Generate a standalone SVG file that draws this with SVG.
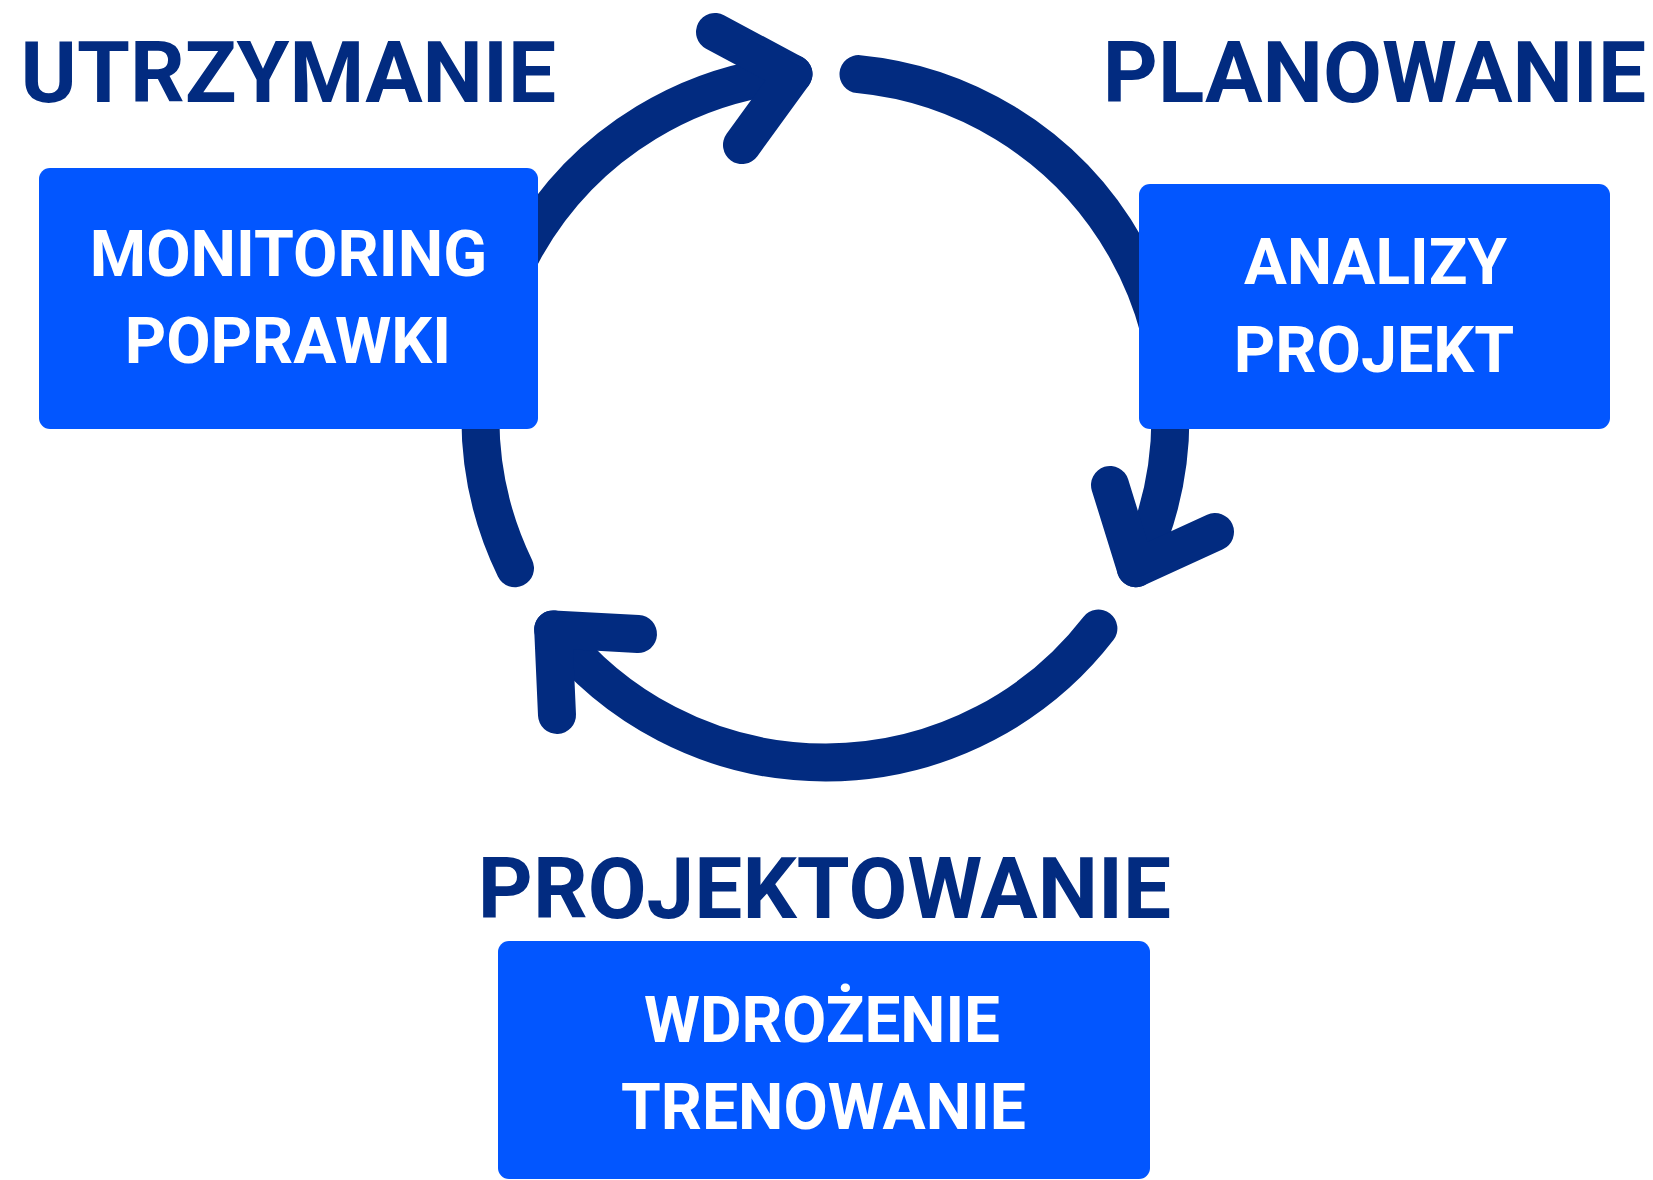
<svg xmlns="http://www.w3.org/2000/svg" width="1653" height="1180" viewBox="0 0 1653 1180">
<style>
.arc{fill:none;stroke:#022B80;stroke-width:38;stroke-linecap:round;stroke-linejoin:round}
.box{fill:#0256FF}
.title{font-family:Roboto,"Liberation Sans",sans-serif;font-weight:700;font-size:86px;fill:#022B80;text-anchor:middle}
.lbl{font-family:Roboto,"Liberation Sans",sans-serif;font-weight:700;font-size:64px;fill:#FFFFFF;text-anchor:middle}
</style>
<rect width="1653" height="1180" fill="#FFFFFF"/>
<g id="connectors">
  <path class="arc" d="M858.5,74.1 A345,345 0 0 1 1135.8,568.2"/>
  <path class="arc" d="M1110,485 L1135.8,568.2 L1215,532"/>
  <path class="arc" d="M1098.4,628.5 A345,345 0 0 1 553.2,629.4"/>
  <path class="arc" d="M638,634 L553.2,629.4 L557,715"/>
  <path class="arc" d="M515,568.2 A345,345 0 0 1 793.5,74"/>
  <path class="arc" d="M715,32 L793.5,74 L742,145"/>
</g>
<g id="utrzymanie">
  <text class="title" x="288.3" y="102" textLength="535.5" lengthAdjust="spacingAndGlyphs">UTRZYMANIE</text>
  <rect class="box" x="39" y="168" width="499" height="261" rx="11"/>
  <text class="lbl" x="288.4" y="276" textLength="397.4" lengthAdjust="spacingAndGlyphs">MONITORING</text>
  <text class="lbl" x="287.9" y="363" textLength="326.4" lengthAdjust="spacingAndGlyphs">POPRAWKI</text>
</g>
<g id="planowanie">
  <text class="title" x="1374.4" y="102" textLength="543.3" lengthAdjust="spacingAndGlyphs">PLANOWANIE</text>
  <rect class="box" x="1139" y="184" width="471" height="245" rx="11"/>
  <text class="lbl" x="1375.5" y="284" textLength="263" lengthAdjust="spacingAndGlyphs">ANALIZY</text>
  <text class="lbl" x="1373.9" y="372" textLength="280.3" lengthAdjust="spacingAndGlyphs">PROJEKT</text>
</g>
<g id="projektowanie">
  <text class="title" x="824.5" y="918" textLength="693.3" lengthAdjust="spacingAndGlyphs">PROJEKTOWANIE</text>
  <rect class="box" x="498" y="941" width="652" height="238" rx="11"/>
  <text class="lbl" x="822" y="1042" textLength="356" lengthAdjust="spacingAndGlyphs">WDROŻENIE</text>
  <text class="lbl" x="823.5" y="1129" textLength="405" lengthAdjust="spacingAndGlyphs">TRENOWANIE</text>
</g>
</svg>
